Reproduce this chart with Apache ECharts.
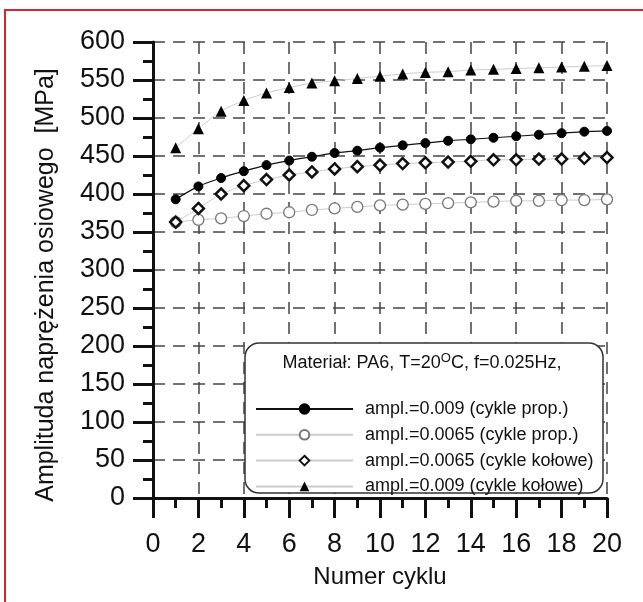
<!DOCTYPE html>
<html>
<head>
<meta charset="utf-8">
<script src="https://cdn.jsdelivr.net/npm/echarts@6/dist/echarts.min.js"></script>
<style>
html,body{margin:0;padding:0;background:#fff;}
#chart{width:643px;height:602px;}
</style>
</head>
<body>
<div id="chart"></div>
<script>
const cycles = [1,2,3,4,5,6,7,8,9,10,11,12,13,14,15,16,17,18,19,20];
const propHigh = [393,410,421,430,438,444,449,454,457,461,464,467,470,472,474,476,478,480,482,483];
const propLow  = [363,366,368,371,374,376,379,381,383,385,386,387,388,389,390,391,391,392,392,393];
const circLow  = [363,381,400,411,419,425,429,433,436,438,440,441,442,443,445,445,446,446,447,448];
const circHigh = [461,486,509,523,533,540,546,549,552,555,558,560,561,563,564,565,566,567,568,569];
const seriesNames = [
  'ampl.=0.009 (cykle prop.)',
  'ampl.=0.0065 (cykle prop.)',
  'ampl.=0.0065 (cykle kołowe)',
  'ampl.=0.009 (cykle kołowe)'
];
const xTitle = 'Numer cyklu';
const yTitle = 'Amplituda naprężenia osiowego  [MPa]';

const pairs = arr => cycles.map((c, i) => [c, arr[i]]);
const FONT = '"Liberation Sans", Arial, sans-serif';

const chart = echarts.init(document.getElementById('chart'), null, {renderer: 'canvas'});
chart.setOption({
  backgroundColor: '#ffffff',
  animation: false,
  grid: {left: 153, right: 36, top: 42, bottom: 104, containLabel: false},
  xAxis: {
    type: 'value', min: 0, max: 20, interval: 2,
    name: xTitle, nameLocation: 'middle', nameGap: 67,
    nameTextStyle: {fontFamily: FONT, fontSize: 24, color: '#111'},
    axisLine: {show: true, onZero: false, lineStyle: {color: '#111', width: 3}},
    axisTick: {show: true, inside: false, length: 20, lineStyle: {color: '#111', width: 3}},
    minorTick: {show: true, splitNumber: 2, length: 10, lineStyle: {color: '#111', width: 3}},
    axisLabel: {fontFamily: FONT, fontSize: 27, color: '#111', margin: 33},
    splitLine: {show: true, lineStyle: {color: '#444', width: 1.5, type: [12, 8]}}
  },
  yAxis: {
    type: 'value', min: 0, max: 600, interval: 50,
    name: yTitle, nameLocation: 'middle', nameGap: 94, nameRotate: 90,
    nameTextStyle: {fontFamily: FONT, fontSize: 25, color: '#111', padding: [0, 30, 0, 0]},
    axisLine: {show: true, onZero: false, lineStyle: {color: '#111', width: 3}},
    axisTick: {show: true, inside: false, length: 20, lineStyle: {color: '#111', width: 3}},
    minorTick: {show: true, splitNumber: 2, length: 10, lineStyle: {color: '#111', width: 3}},
    axisLabel: {fontFamily: FONT, fontSize: 27, color: '#111', margin: 28},
    splitLine: {show: true, lineStyle: {color: '#444', width: 1.5, type: [12, 8]}}
  },
  legend: {
    show: true, orient: 'vertical', left: 250, top: 395, z: 20,
    itemWidth: 97, itemHeight: 12, itemGap: 7.8,
    textStyle: {fontFamily: FONT, fontSize: 18, color: '#111', padding: [0, 0, 0, 7]},
    data: seriesNames
  },
  graphic: [
    {type: 'rect', z: 10, shape: {x: 245, y: 343, width: 358, height: 150, r: 14},
     style: {fill: '#fff', stroke: '#333', lineWidth: 1.5}},
    {type: 'text', z: 11, x: 422, y: 363,
     style: {text: 'Materiał: PA6, T=20{sup|O}C, f=0.025Hz,', font: '18px ' + FONT, fill: '#111',
             align: 'center', verticalAlign: 'middle',
             rich: {sup: {fontSize: 13, fontFamily: FONT, fill: '#111', padding: [0, 0, 9, 0]}}}},
    {type: 'rect', z: 30, silent: true, shape: {x: 5, y: 10, width: 700, height: 700},
     style: {fill: 'none', stroke: '#d8262e', lineWidth: 2}}
  ],
  series: [
    {name: seriesNames[0], type: 'line', data: pairs(propHigh), smooth: 0.3, z: 5,
     symbol: 'circle', symbolSize: 9,
     itemStyle: {color: '#000', borderColor: '#000', borderWidth: 1},
     lineStyle: {color: '#111', width: 1.2}},
    {name: seriesNames[1], type: 'line', data: pairs(propLow), smooth: 0.3, z: 3,
     symbol: 'circle', symbolSize: 11,
     itemStyle: {color: '#fff', borderColor: '#777', borderWidth: 1.3},
     lineStyle: {color: '#ccc', width: 1}},
    {name: seriesNames[2], type: 'line', data: pairs(circLow), smooth: 0.3, z: 4,
     symbol: 'diamond', symbolSize: 11,
     itemStyle: {color: '#fff', borderColor: '#111', borderWidth: 2.5},
     lineStyle: {color: '#ccc', width: 1}},
    {name: seriesNames[3], type: 'line', data: pairs(circHigh), smooth: 0.3, z: 4,
     symbol: 'triangle', symbolSize: 11,
     itemStyle: {color: '#000', borderColor: '#000', borderWidth: 0},
     lineStyle: {color: '#ccc', width: 1}}
  ]
});
</script>
</body>
</html>
